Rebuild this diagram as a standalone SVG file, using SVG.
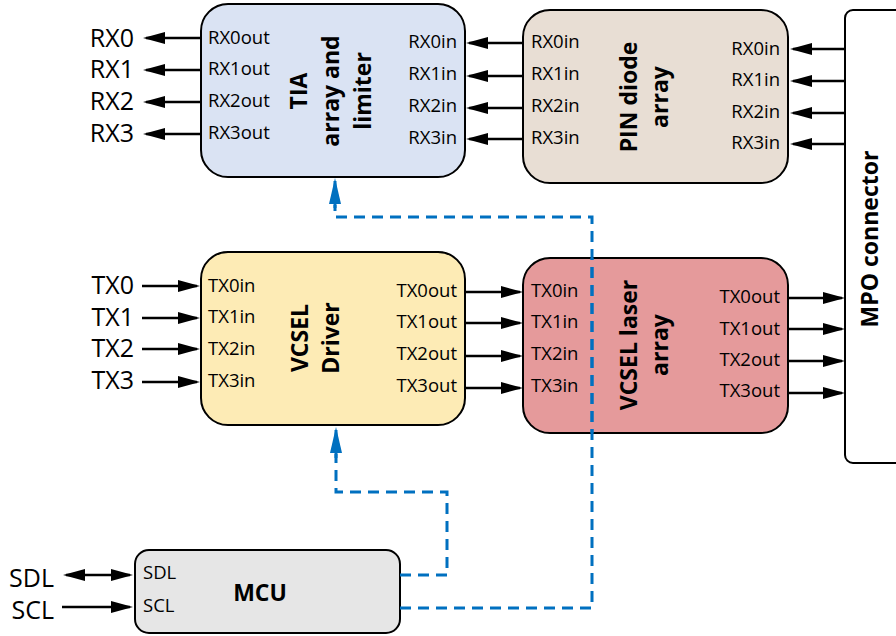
<svg xmlns="http://www.w3.org/2000/svg" width="896" height="636" viewBox="0 0 896 636">
<style>
.box{stroke:#000;stroke-width:2}
.lbl{font-family:"Open Sans","Liberation Sans",sans-serif;font-size:25px;fill:#000}
.pin{font-family:"Open Sans","Liberation Sans",sans-serif;font-size:18.5px;fill:#000}
.ttl{font-family:"Open Sans","Liberation Sans",sans-serif;font-size:23px;font-weight:bold;fill:#000}
.ar{stroke:#000;stroke-width:2.5;fill:none;marker-end:url(#ah)}
.dash{stroke:#0070C0;stroke-width:3;fill:none;stroke-dasharray:11 7}
</style>
<defs>
<marker id="ah" markerUnits="userSpaceOnUse" markerWidth="22" markerHeight="12" refX="19" refY="6" orient="auto">
<path d="M0,0 L22,6 L0,12 z" fill="#000"/>
</marker>
<marker id="ahs" markerUnits="userSpaceOnUse" markerWidth="22" markerHeight="12" refX="19" refY="6" orient="auto-start-reverse">
<path d="M0,0 L22,6 L0,12 z" fill="#000"/>
</marker>
<marker id="bh" markerUnits="userSpaceOnUse" markerWidth="26" markerHeight="12" refX="23" refY="6" orient="auto">
<path d="M0,0 L26,6 L0,12 z" fill="#0070C0"/>
</marker>
<clipPath id="laserclip"><rect x="523" y="258" width="265" height="175" rx="27"/></clipPath>
</defs>

<g id="tia">
<rect class="box" x="201" y="4" width="264" height="173" rx="27" fill="#DAE3F3"/>
<text class="pin" x="208" y="43.5">RX0out</text>
<text class="pin" x="208" y="75">RX1out</text>
<text class="pin" x="208" y="107">RX2out</text>
<text class="pin" x="208" y="138.5">RX3out</text>
<text class="pin" x="457" y="48" text-anchor="end">RX0in</text>
<text class="pin" x="457" y="80" text-anchor="end">RX1in</text>
<text class="pin" x="457" y="112" text-anchor="end">RX2in</text>
<text class="pin" x="457" y="143.5" text-anchor="end">RX3in</text>
<text class="ttl" transform="translate(307,91) rotate(-90)" text-anchor="middle">TIA</text>
<text class="ttl" transform="translate(339,91) rotate(-90)" text-anchor="middle">array and</text>
<text class="ttl" transform="translate(371,91) rotate(-90)" text-anchor="middle">limiter</text>
</g>

<g id="pin">
<rect class="box" x="523" y="10" width="265" height="173" rx="27" fill="#E8DED4"/>
<text class="pin" x="531" y="48">RX0in</text>
<text class="pin" x="531" y="80">RX1in</text>
<text class="pin" x="531" y="112">RX2in</text>
<text class="pin" x="531" y="143.5">RX3in</text>
<text class="pin" x="780" y="54.5" text-anchor="end">RX0in</text>
<text class="pin" x="780" y="86" text-anchor="end">RX1in</text>
<text class="pin" x="780" y="117.5" text-anchor="end">RX2in</text>
<text class="pin" x="780" y="149" text-anchor="end">RX3in</text>
<text class="ttl" transform="translate(637,97) rotate(-90)" text-anchor="middle">PIN diode</text>
<text class="ttl" transform="translate(668,97) rotate(-90)" text-anchor="middle">array</text>
</g>

<g id="driver">
<rect class="box" x="201" y="252" width="264" height="173" rx="27" fill="#FDEBB5"/>
<text class="pin" x="208" y="292">TX0in</text>
<text class="pin" x="208" y="323">TX1in</text>
<text class="pin" x="208" y="355">TX2in</text>
<text class="pin" x="208" y="387">TX3in</text>
<text class="pin" x="457" y="297" text-anchor="end">TX0out</text>
<text class="pin" x="457" y="328" text-anchor="end">TX1out</text>
<text class="pin" x="457" y="360" text-anchor="end">TX2out</text>
<text class="pin" x="457" y="392" text-anchor="end">TX3out</text>
<text class="ttl" transform="translate(308,338) rotate(-90)" text-anchor="middle">VCSEL</text>
<text class="ttl" transform="translate(339,338) rotate(-90)" text-anchor="middle">Driver</text>
</g>

<g id="laser">
<rect class="box" x="523" y="258" width="265" height="175" rx="27" fill="#E59A9B"/>
<text class="pin" x="531" y="297">TX0in</text>
<text class="pin" x="531" y="328">TX1in</text>
<text class="pin" x="531" y="360">TX2in</text>
<text class="pin" x="531" y="392">TX3in</text>
<text class="pin" x="780" y="303" text-anchor="end">TX0out</text>
<text class="pin" x="780" y="335" text-anchor="end">TX1out</text>
<text class="pin" x="780" y="366" text-anchor="end">TX2out</text>
<text class="pin" x="780" y="397" text-anchor="end">TX3out</text>
<text class="ttl" transform="translate(637,345) rotate(-90)" text-anchor="middle">VCSEL laser</text>
<text class="ttl" transform="translate(668,345) rotate(-90)" text-anchor="middle">array</text>
</g>

<g id="mpo">
<rect class="box" x="845" y="10" width="80" height="453" rx="8" fill="#FFFFFF"/>
<text class="ttl" transform="translate(878,239) rotate(-90)" text-anchor="middle">MPO connector</text>
</g>

<g id="mcu">
<rect class="box" x="135" y="550" width="265" height="83" rx="14" fill="#E6E6E6"/>
<text class="pin" x="143" y="579">SDL</text>
<text class="pin" x="143" y="612">SCL</text>
<text class="ttl" x="260" y="601" text-anchor="middle">MCU</text>
</g>

<g id="labels">
<text class="lbl" x="134" y="46.5" text-anchor="end">RX0</text>
<text class="lbl" x="134" y="78" text-anchor="end">RX1</text>
<text class="lbl" x="134" y="110" text-anchor="end">RX2</text>
<text class="lbl" x="134" y="142" text-anchor="end">RX3</text>
<text class="lbl" x="134" y="294" text-anchor="end">TX0</text>
<text class="lbl" x="134" y="326" text-anchor="end">TX1</text>
<text class="lbl" x="134" y="357" text-anchor="end">TX2</text>
<text class="lbl" x="134" y="389" text-anchor="end">TX3</text>
<text class="lbl" x="54" y="587" text-anchor="end">SDL</text>
<text class="lbl" x="54" y="619" text-anchor="end">SCL</text>
</g>

<g id="connectors">
<path class="ar" d="M201,38 H146"/>
<path class="ar" d="M201,70 H146"/>
<path class="ar" d="M201,102 H146"/>
<path class="ar" d="M201,134 H146"/>
<path class="ar" d="M523,43 H469"/>
<path class="ar" d="M523,76 H469"/>
<path class="ar" d="M523,108 H469"/>
<path class="ar" d="M523,139 H469"/>
<path class="ar" d="M845,49 H793"/>
<path class="ar" d="M845,81 H793"/>
<path class="ar" d="M845,113 H793"/>
<path class="ar" d="M845,144 H793"/>
<path class="ar" d="M142,286 H197"/>
<path class="ar" d="M142,318 H197"/>
<path class="ar" d="M142,349 H197"/>
<path class="ar" d="M142,382 H197"/>
<path class="ar" d="M465,292 H520"/>
<path class="ar" d="M465,323 H520"/>
<path class="ar" d="M465,356 H520"/>
<path class="ar" d="M465,388 H520"/>
<path class="ar" d="M788,298 H842"/>
<path class="ar" d="M788,329 H842"/>
<path class="ar" d="M788,361 H842"/>
<path class="ar" d="M788,393 H842"/>
<path class="ar" d="M66,575 H130" marker-start="url(#ahs)"/>
<path class="ar" d="M62,607 H130"/>
<path class="dash" d="M400,575 H447 V492 H336 V454"/>
<path d="M336,458 V430" stroke="#0070C0" stroke-width="3" fill="none" marker-end="url(#bh)"/>
<path class="dash" d="M400,608 H592 V217 H335 V205"/>
<path class="dash" d="M400,608 H592 V217 H335 V205" stroke="#3F4A86" clip-path="url(#laserclip)"/>
<path d="M335,208 V181" stroke="#0070C0" stroke-width="3" fill="none" marker-end="url(#bh)"/>
</g>
</svg>
